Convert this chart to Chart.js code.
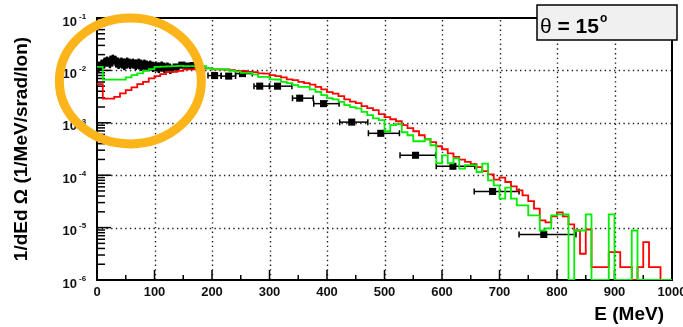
<!DOCTYPE html>
<html><head><meta charset="utf-8">
<script src="https://cdn.jsdelivr.net/npm/chart.js@4/dist/chart.umd.min.js"></script>
<style>html,body{margin:0;padding:0;background:#fff;}#wrap{width:683px;height:327px;position:relative;}</style>
</head><body><div id="wrap"><canvas id="c" width="683" height="327"></canvas></div>
<script>
// ---------- data ----------
const BIN_WIDTH = 10;      // MeV, histogram bin width (bins start at 0)
const redHist = [
5.47e-3,2.89e-3,2.89e-3,3.13e-3,3.63e-3,4.20e-3,4.73e-3,5.47e-3,6.05e-3,7.03e-3,
7.78e-3,8.49e-3,9.4e-3,9.4e-3,9.83e-3,1.045e-2,1.045e-2,1.09e-2,1.09e-2,1.09e-2,
1.045e-2,1.045e-2,1.04e-2,1.01e-2,9.83e-3,9.8e-3,9.4e-3,9.28e-3,8.77e-3,8.7e-3,
8.13e-3,7.78e-3,7.35e-3,6.73e-3,6.5e-3,6.05e-3,5.72e-3,5.35e-3,4.86e-3,4.33e-3,
3.85e-3,3.6e-3,3.23e-3,2.79e-3,2.53e-3,2.37e-3,2.08e-3,1.90e-3,1.74e-3,1.46e-3,
1.28e-3,1.17e-3,1.07e-3,9.0e-4,7.88e-4,6.9e-4,5.79e-4,4.85e-4,4.26e-4,3.57e-4,
3.13e-4,2.62e-4,2.23e-4,1.99e-4,1.79e-4,1.62e-4,1.43e-4,1.2e-4,1.04e-4,8.24e-5,
9.0e-5,7.41e-5,6.14e-5,5.14e-5,4.13e-5,3.21e-5,2.30e-5,1.37e-5,1.26e-5,1.64e-5,
1.95e-5,1.64e-5,1.15e-5,8.8e-6,3.17e-6,9.2e-6,1.76e-6,1.76e-6,1.76e-6,3.4e-6,
3.4e-6,1.76e-6,1.76e-6,1e-6,1.76e-6,5.3e-6,1.76e-6,1.76e-6,1e-6,1e-6
];
const greenHist = [
1.17e-2,6.67e-3,6.67e-3,6.67e-3,6.67e-3,7.35e-3,8.13e-3,8.77e-3,9.83e-3,1.06e-2,
1.17e-2,1.18e-2,1.19e-2,1.21e-2,1.22e-2,1.2e-2,1.21e-2,1.2e-2,1.21e-2,1.10e-2,
1.045e-2,1.045e-2,1.04e-2,9.83e-3,9.5e-3,9.0e-3,9.0e-3,8.39e-3,7.55e-3,7.55e-3,
6.73e-3,6.7e-3,6.05e-3,5.72e-3,5.24e-3,4.86e-3,4.86e-3,4.33e-3,3.9e-3,3.37e-3,
2.95e-3,2.79e-3,2.51e-3,2.17e-3,1.99e-3,1.88e-3,1.62e-3,1.40e-3,1.21e-3,1.12e-3,
6.9e-4,9.0e-4,9.4e-4,6.6e-4,5.79e-4,4.45e-4,4.45e-4,4.85e-4,3.73e-4,1.69e-4,
2.4e-4,1.69e-4,2.1e-4,1.34e-4,1.55e-4,1.55e-4,1.15e-4,1.67e-4,7.98e-5,6.41e-5,
3.57e-5,5.8e-5,3.57e-5,2.66e-5,2.66e-5,1.71e-5,1.71e-5,8.8e-6,9.7e-6,1.71e-5,
1.79e-5,1.79e-5,1e-6,8.8e-6,8.8e-6,1.79e-5,1e-6,1e-6,1e-6,1.79e-5,
1e-6,1e-6,1e-6,8.8e-6,1e-6,1e-6,1e-6,1e-6,1e-6,1e-6
];
// measured points (black squares with error bars)
const dataE = [2.5,7.5,12.5,17.5,22.5,27.5,32.5,37.5,42.5,47.5,52.5,57.5,62.5,67.5,72.5,77.5,82.5,87.5,92.5,97.5,
  102.5,107.5,112.5,117.5,122.5,127.5,137.5,147.5,157.5,167.5,
  204.5,229,253,283,314,352.5,394,443,493.5,554,619,688,777];
const dataV = [1.16e-2,1.26e-2,1.38e-2,1.51e-2,1.38e-2,1.64e-2,1.51e-2,1.32e-2,1.44e-2,1.26e-2,1.44e-2,1.32e-2,1.38e-2,1.26e-2,1.38e-2,1.21e-2,1.32e-2,1.21e-2,1.26e-2,1.16e-2,
  1.21e-2,1.11e-2,1.21e-2,1.11e-2,1.16e-2,1.06e-2,1.16e-2,1.26e-2,1.21e-2,1.24e-2,
  7.96e-3,7.78e-3,8.69e-3,5.01e-3,5.0e-3,2.95e-3,2.32e-3,1.03e-3,6.3e-4,2.4e-4,1.48e-4,4.9e-5,7.4e-6];
const dataVLow = [0.93e-2,1.01e-2,1.10e-2,1.21e-2,1.10e-2,1.31e-2,1.21e-2,1.06e-2,1.15e-2,1.01e-2,1.15e-2,1.06e-2,1.10e-2,1.01e-2,1.10e-2,0.97e-2,1.06e-2,0.97e-2,1.01e-2,0.93e-2,
  0.97e-2,0.89e-2,0.97e-2,0.89e-2,0.93e-2,0.85e-2,1.0e-2,1.1e-2,1.06e-2,1.09e-2,
  null,null,null,null,null,null,null,null,null,null,null,null,null];
const dataVHigh = [1.42e-2,1.54e-2,1.68e-2,1.84e-2,1.68e-2,2.0e-2,1.84e-2,1.61e-2,1.76e-2,1.54e-2,1.76e-2,1.61e-2,1.68e-2,1.54e-2,1.68e-2,1.48e-2,1.61e-2,1.48e-2,1.54e-2,1.42e-2,
  1.48e-2,1.35e-2,1.48e-2,1.35e-2,1.42e-2,1.29e-2,1.33e-2,1.44e-2,1.38e-2,1.41e-2,
  null,null,null,null,null,null,null,null,null,null,null,null,null];
const dataELow = [0,5,10,15,20,25,30,35,40,45,50,55,60,65,70,75,80,85,90,95,
  100,105,110,115,120,125,132,142,152,162,
  193,216,241,273,300,340,377,422,472,527,590,656,734];
const dataEHigh = [5,10,15,20,25,30,35,40,45,50,55,60,65,70,75,80,85,90,95,100,
  105,110,115,120,125,130,142,152,162,172,
  216,241,270,300,339,376,421,471,526,589,657,734,833];
// axes
const xTickValues = [0,100,200,300,400,500,600,700,800,900,1000];
const xTickLabels = ['0','100','200','300','400','500','600','700','800','900','1000'];
const yTickValues = [1e-6,1e-5,1e-4,1e-3,1e-2,1e-1];
const yTickBase = '10';
const yTickExponents = ['-6','-5','-4','-3','-2','-1'];
const xTitle = 'E (MeV)';
const yTitle = '1/dEd \u03A9 (1/MeV/srad/Ion)';
const paveSymbol = '\u03B8';
const paveText = ' = 15';
const paveSup = 'o';
const highlightE = 58, highlightV = 6.3e-3;   // centre of the orange highlight ring

// ---------- build ----------
function histPoints(vals){
  const pts = vals.map((v,i)=>({x:i*BIN_WIDTH, y:v}));
  pts.push({x:vals.length*BIN_WIDTH, y:vals[vals.length-1]});
  return pts;
}
const pointData = dataE.map((e,i)=>({x:e, y:dataV[i]}));

const FONT = '"Liberation Sans", Arial, Helvetica, sans-serif';

const rootStyle = {
  id:'rootStyle',
  beforeDatasetsDraw(chart){
    const {ctx, chartArea:a, scales:{x, y}} = chart;
    ctx.save();
    // dotted grid
    ctx.strokeStyle = '#222'; ctx.lineWidth = 1.4; ctx.setLineDash([1.4,3.3]);
    xTickValues.forEach(v=>{ if(v<=x.min||v>=x.max) return; const px=Math.round(x.getPixelForValue(v))+0.5;
      ctx.beginPath(); ctx.moveTo(px,a.bottom); ctx.lineTo(px,a.top); ctx.stroke(); });
    yTickValues.forEach(v=>{ if(v<=y.min||v>=y.max) return; const py=Math.round(y.getPixelForValue(v))+0.5;
      ctx.beginPath(); ctx.moveTo(a.left,py); ctx.lineTo(a.right,py); ctx.stroke(); });
    ctx.setLineDash([]);
    // ticks
    ctx.strokeStyle='#000'; ctx.lineWidth=1.5;
    for(let d=-6; d<-1; d++){
      for(let k=1;k<10;k++){
        const v=k*Math.pow(10,d); const py=y.getPixelForValue(v);
        const len = k===1?14:8;
        ctx.beginPath(); ctx.moveTo(a.left,py); ctx.lineTo(a.left+len,py); ctx.stroke();
      }
    }
    xTickValues.forEach((v,i)=>{
      const px=x.getPixelForValue(v);
      ctx.beginPath(); ctx.moveTo(px,a.bottom); ctx.lineTo(px,a.bottom-10); ctx.stroke();
      if(i<xTickValues.length-1){ const pm=x.getPixelForValue((v+xTickValues[i+1])/2);
        ctx.beginPath(); ctx.moveTo(pm,a.bottom); ctx.lineTo(pm,a.bottom-5); ctx.stroke(); }
    });
    // frame
    ctx.lineWidth=2; ctx.strokeStyle='#000';
    ctx.strokeRect(a.left,a.top,a.right-a.left,a.bottom-a.top);
    // error bars
    ctx.lineWidth=1.5;
    dataE.forEach((e,i)=>{
      const px=x.getPixelForValue(e), py=y.getPixelForValue(dataV[i]);
      const x1=x.getPixelForValue(dataELow[i]), x2=x.getPixelForValue(dataEHigh[i]);
      ctx.beginPath(); ctx.moveTo(x1,py); ctx.lineTo(x2,py); ctx.stroke();
      if(x2-x1>8){ ctx.beginPath(); ctx.moveTo(x1,py-3); ctx.lineTo(x1,py+3); ctx.moveTo(x2,py-3); ctx.lineTo(x2,py+3); ctx.stroke(); }
      if(dataVLow[i]!=null){
        ctx.lineWidth=2.5;
        ctx.beginPath(); ctx.moveTo(px,y.getPixelForValue(dataVLow[i])); ctx.lineTo(px,y.getPixelForValue(dataVHigh[i])); ctx.stroke();
        ctx.lineWidth=1.5;
      }
    });
    ctx.restore();
  },
  afterDraw(chart){
    const {ctx, chartArea:a, scales:{x, y}} = chart;
    ctx.save();
    ctx.fillStyle='#111';
    // x labels
    ctx.font='bold 13px '+FONT; ctx.textAlign='center'; ctx.textBaseline='middle';
    xTickValues.forEach((v,i)=>ctx.fillText(xTickLabels[i], x.getPixelForValue(v), 292));
    // y labels
    yTickValues.forEach((v,i)=>{
      const py=y.getPixelForValue(v);
      ctx.font='bold 13px '+FONT; ctx.textAlign='right'; ctx.textBaseline='middle';
      ctx.fillText(yTickBase, 77, py+4);
      ctx.font='bold 8px '+FONT; ctx.textAlign='left';
      ctx.fillText(yTickExponents[i], 79, py-1.5);
    });
    // titles
    ctx.fillStyle='#000';
    ctx.font='bold 19px '+FONT; ctx.textAlign='right'; ctx.textBaseline='middle';
    ctx.fillText(xTitle, 664, 315);
    ctx.save(); ctx.translate(21.5,(a.top+a.bottom)/2); ctx.rotate(-Math.PI/2);
    ctx.textAlign='center'; ctx.fillText(yTitle,0,0); ctx.restore();
    // pave
    ctx.fillStyle='#f0f0f0'; ctx.fillRect(537,5,140,35);
    ctx.strokeStyle='#000'; ctx.lineWidth=1.5; ctx.strokeRect(537,5,140,35);
    ctx.fillStyle='#000'; ctx.textAlign='left'; ctx.textBaseline='alphabetic';
    ctx.font='21px '+FONT; ctx.fillText(paveSymbol,540,33);
    let w=ctx.measureText(paveSymbol).width;
    ctx.font='bold 21px '+FONT; ctx.fillText(paveText,540+w,33);
    w+=ctx.measureText(paveText).width;
    ctx.font='bold 12px '+FONT; ctx.fillText(paveSup,541+w,22);
    // highlight ring
    ctx.strokeStyle='#FBB41A'; ctx.lineWidth=9;
    ctx.beginPath(); ctx.ellipse(x.getPixelForValue(highlightE), y.getPixelForValue(highlightV), 71, 63, 0, 0, Math.PI*2); ctx.stroke();
    ctx.restore();
  }
};

new Chart(document.getElementById('c'), {
  type:'line',
  data:{ datasets:[
    {label:'green', data:histPoints(greenHist), stepped:'before', borderColor:'#00ee00', borderWidth:1.8, pointRadius:0, fill:false},
    {label:'red', data:histPoints(redHist), stepped:'before', borderColor:'#ff0000', borderWidth:1.8, pointRadius:0, fill:false},
    {label:'data', data:pointData, showLine:false, pointStyle:'rect', pointRadius:5, backgroundColor:'#000', borderColor:'#000', borderWidth:0}
  ]},
  options:{
    responsive:false, animation:false, devicePixelRatio:1,
    layout:{padding:{left:97, right:11, top:18, bottom:47}},
    plugins:{legend:{display:false}, tooltip:{enabled:false}},
    scales:{
      x:{type:'linear', min:0, max:1000, display:false},
      y:{type:'logarithmic', min:1e-6, max:1e-1, display:false}
    }
  },
  plugins:[rootStyle]
});
</script></body></html>
